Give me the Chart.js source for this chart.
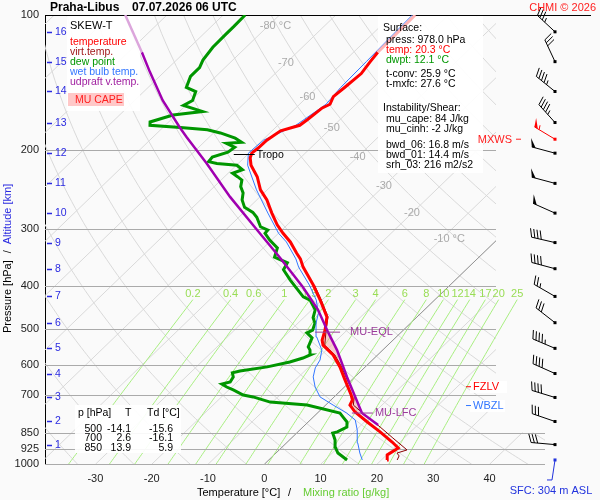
<!DOCTYPE html>
<html>
<head>
<meta charset="utf-8">
<title>Skew-T Praha-Libus</title>
<script src="https://cdn.jsdelivr.net/npm/chart.js@4.4.0/dist/chart.umd.min.js"></script>
<style>
  html, body { margin: 0; padding: 0; background: #fafafa; }
  #wrap { width: 600px; height: 500px; }
</style>
</head>
<body>
<div id="wrap"><canvas id="skewT" width="600" height="500"></canvas></div>
<script>
// sounding: pressure [hPa] and temperature [°C]
const tempP = [978, 953, 920, 892, 847, 805, 765, 738, 719, 700, 649, 607, 571, 543, 529, 503, 470, 431, 399, 364,
               349, 339, 320, 306, 293, 276, 258, 245, 229, 216, 208, 203, 198, 190, 181, 176, 171, 161, 158, 152,
               145, 135, 127, 121, 100];
const tempT = [21.0, 20.1, 20.8, 18.6, 14.6, 10.5, 6.5, 4.3, 3.8, 2.6, -1.2, -4.5, -7.9, -11.5, -12.6, -13.9, -16.0, -20.3, -24.3, -29.4,
               -31.4, -33.1, -36.3, -39.2, -41.8, -44.9, -48.2, -51.2, -54.2, -57.4, -58.9, -59.5, -59.3, -59.2, -58.5, -56.1, -55.8, -55.3, -54.6, -55.4,
               -55.1, -54.7, -55.3, -55.7, -55.9];

const virtP = [978, 958, 944, 929, 874, 826, 777, 738, 700, 649, 607, 571, 543, 503, 470, 431, 399];
const virtT = [22.8, 22.4, 21.5, 22.7, 18.0, 13.7, 8.8, 4.9, 3.2, -0.8, -4.2, -7.6, -11.2, -13.7, -15.8, -20.1, -24.1];

const dewP = [978, 944, 915, 883, 852, 847, 826, 805, 785, 769,
              738, 727, 708, 701, 683, 673, 663, 656, 639, 626,
              620, 607, 592, 580, 571, 557, 548, 523, 510, 503,
              485, 472, 453, 431, 424, 389, 369, 356, 346, 330,
              317, 306, 301, 296, 282, 275, 268, 258, 249, 241,
              233, 229, 225, 221, 216, 214, 212, 207, 202, 197,
              193, 192, 188, 183, 180, 178, 176, 173, 167, 164,
              159, 155, 148, 145, 137, 131, 126, 118, 110, 106, 100];
const dewT = [13.9, 11.0, 9.4, 8.1, 6.4, 7.0, 7.8, 6.9, 5.3, 4.0,
              -3.3, -10.4, -14.4, -16.5, -19.2, -20.9, -22.3, -21.2, -21.6, -22.5,
              -21.5, -17.4, -14.3, -12.7, -12.0, -12.9, -13.8, -14.8, -16.6, -16.1,
              -17.0, -18.3, -19.4, -22.1, -23.9, -29.3, -32.4, -33.0, -36.3, -37.5,
              -40.3, -42.4, -42.5, -44.4, -46.8, -48.4, -50.8, -52.6, -53.7, -55.3,
              -56.3, -57.7, -59.2, -58.1, -59.9, -63.8, -65.6, -65.8, -63.9, -63.6,
              -65.8, -63.3, -65.2, -68.8, -71.7, -76.9, -82.7, -83.3, -80.5, -75.9,
              -80.4, -79.7, -80.8, -83.2, -84.5, -84.5, -85.3, -85.9, -86.0, -86.0, -86.1];

const wetP = [978, 944, 897, 839, 797, 769, 738, 708, 673, 639, 610, 586, 557, 521, 485, 461, 431, 399, 364, 349,
              320, 306, 276, 245, 216, 203, 190, 176, 158, 145, 127, 100];
const wetT = [16.6, 14.9, 12.7, 10.2, 8.0, 5.2, 1.3, -2.5, -5.2, -7.4, -8.7, -9.3, -10.8, -14.1, -16.8, -18.2, -21.0, -25.0, -30.2, -32.2,
              -37.0, -40.0, -45.6, -51.9, -58.0, -60.1, -59.8, -56.8, -55.3, -55.8, -56.0, -56.4];

const parcelP = [818, 769, 639, 557, 508, 453, 403, 346, 301, 254, 214, 187, 178, 155, 134, 121, 100];
const parcelT = [13.0, 7.9, -1.4, -8.1, -13.0, -18.9, -25.8, -35.4, -44.4, -55.3, -65.6, -74.0, -77.0, -85.0, -92.5, -97.6, -107.4];

// axes
const pressureTicks = [100, 200, 300, 400, 500, 600, 700, 850, 925, 1000];
const tempTicks = [-30, -20, -10, 0, 10, 20, 30, 40];

// altitude levels (km) with their pressure, and the wind at each of them
const kmLevels = [1, 2, 3, 4, 5, 6, 7, 8, 9, 10, 11, 12, 13, 14, 15, 16];
const kmP = [904, 803, 710, 628, 552, 484, 423, 367, 321, 276, 237, 203, 173.5, 148, 127, 109];
const windDir = [275, 289, 287, 294, 293, 308, 300, 285, 283, 294, 285, 285, 318, 309, 335, 313];
const windSpd = [30, 30, 40, 40, 45, 30, 25, 40, 40, 50, 50, 50, 45, 45, 30, 35];
const maxWindP = 189, maxWindDir = 301, maxWindSpd = 55;
const surfaceP = 978;

// levels marked on the diagram
const tropoP = 204, tropoT = -59.5;
const eqlP = 508, lfcP = 769;
const fzlvP = 672, wbzlP = 740;

// background lines
const mixRatios = [0.2, 0.4, 0.6, 1, 1.5, 2, 3, 4, 6, 8, 10, 12, 14, 17, 20, 25];
const isoLabelT = [-80, -70, -60, -50, -40, -30, -20, -10];
const isoLabelP = [106, 128, 152, 178, 207, 240, 276, 315];

const tableRows = [["500", "-14.1", "-15.6"], ["700", "2.6", "-16.1"], ["850", "13.9", "5.9"]];

const SKEW = 82.7; // °C of shift per decade of pressure
const FONT = "'Liberation Sans', Arial, sans-serif";

function skewX(t, p) { return t + SKEW * Math.log10(1000 / p); }
function toPoints(ps, ts) { return ps.map((p, i) => ({ x: skewX(ts[i], p), y: p })); }
function dewFromMix(w, p) {
    const e = w * p / (622 + w);
    const l = Math.log(e / 6.112);
    return 243.5 * l / (17.67 - l);
}

function txt(ctx, s, x, y, color, size, align, bold) {
    ctx.fillStyle = color;
    ctx.font = (bold ? "bold " : "") + size + "px " + FONT;
    ctx.textAlign = align || "left";
    ctx.textBaseline = "middle";
    ctx.fillText(s, x, y);
}

function drawBarb(ctx, x, y, dir, spd, color) {
    const a = dir * Math.PI / 180;
    const ux = Math.sin(a), uy = -Math.cos(a);
    const nx = -uy, ny = ux;
    const bx = nx * 0.94 + ux * 0.34, by = ny * 0.94 + uy * 0.34;
    const L = 24;
    ctx.strokeStyle = color; ctx.fillStyle = color; ctx.lineWidth = 1;
    ctx.beginPath(); ctx.moveTo(x, y); ctx.lineTo(x + ux * L, y + uy * L); ctx.stroke();
    ctx.fillRect(x - 1.5, y - 1.5, 3, 3);
    let rest = spd, d = L;
    while (rest >= 50) {
        const sx = x + ux * d, sy = y + uy * d;
        ctx.beginPath();
        ctx.moveTo(sx, sy);
        ctx.lineTo(sx + bx * 9, sy + by * 9);
        ctx.lineTo(x + ux * (d - 4), y + uy * (d - 4));
        ctx.closePath(); ctx.fill();
        rest -= 50; d -= 5.5;
    }
    while (rest >= 10) {
        const sx = x + ux * d, sy = y + uy * d;
        ctx.beginPath(); ctx.moveTo(sx, sy); ctx.lineTo(sx + bx * 9, sy + by * 9); ctx.stroke();
        rest -= 10; d -= 3.3;
    }
    if (rest >= 5) {
        const sx = x + ux * d, sy = y + uy * d;
        ctx.beginPath(); ctx.moveTo(sx, sy); ctx.lineTo(sx + bx * 4.5, sy + by * 4.5); ctx.stroke();
    }
}

const skewtPlugin = {
    id: "skewt",
    beforeDraw(chart) {
        const ctx = chart.ctx;
        ctx.save();
        ctx.fillStyle = "#fafafa";
        ctx.fillRect(0, 0, chart.width, chart.height);
        ctx.restore();
    },
    beforeDatasetsDraw(chart) {
        const { ctx, chartArea: a, scales: { x: xs, y: ys } } = chart;
        const px = (t, p) => xs.getPixelForValue(skewX(t, p));
        const py = p => ys.getPixelForValue(p);

        // isotherms and dry adiabats
        ctx.save();
        ctx.beginPath();
        ctx.rect(a.left, a.top, a.right - a.left, a.bottom - a.top);
        ctx.rect(a.right, py(850), 49, a.bottom - py(850));
        ctx.clip();
        ctx.lineWidth = 1;
        ctx.strokeStyle = "#d9d9d9";
        for (let t = -130; t <= 50; t += 10) {
            ctx.beginPath(); ctx.moveTo(px(t, 1000), py(1000)); ctx.lineTo(px(t, 100), py(100)); ctx.stroke();
        }
        for (let th = 200; th <= 480; th += 10) {
            ctx.beginPath();
            for (let p = 1000; p >= 100; p -= 10) {
                const t = th * Math.pow(p / 1000, 0.2857) - 273.15;
                if (p === 1000) ctx.moveTo(px(t, p), py(p)); else ctx.lineTo(px(t, p), py(p));
            }
            ctx.stroke();
        }
        ctx.strokeStyle = "#808080";
        ctx.lineWidth = 0.8;
        ctx.beginPath(); ctx.moveTo(px(0, 1000), py(1000)); ctx.lineTo(px(0, 100), py(100)); ctx.stroke();
        ctx.restore();

        // mixing ratio lines
        ctx.save();
        ctx.beginPath();
        ctx.rect(a.left, a.top, chart.width - a.left, a.bottom - a.top);
        ctx.clip();
        ctx.strokeStyle = "#a8ee80";
        ctx.lineWidth = 1;
        mixRatios.forEach(w => {
            ctx.beginPath();
            for (let p = 1000; p >= 430; p -= 10) {
                const t = dewFromMix(w, p);
                if (p === 1000) ctx.moveTo(px(t, p), py(p)); else ctx.lineTo(px(t, p), py(p));
            }
            ctx.stroke();
        });
        ctx.restore();
        mixRatios.forEach(w => txt(ctx, String(w), px(dewFromMix(w, 430), 430), py(418), "#99dd55", 11, "center"));

        // isotherm labels
        isoLabelT.forEach((t, i) => {
            const x = px(t, isoLabelP[i]), y = py(isoLabelP[i]);
            txt(ctx, String(t), x, y, "#aaaaaa", 11, "center");
            if (t === -80 || t === -10) {
                ctx.font = "11px " + FONT;
                txt(ctx, " \u00b0C", x + ctx.measureText(String(t)).width / 2, y, "#aaaaaa", 11, "left");
            }
        });

        // pressure lines
        ctx.save();
        ctx.strokeStyle = "#aaaaaa";
        ctx.lineWidth = 1;
        pressureTicks.forEach(p => {
            if (p === 100) return;
            const y = Math.round(py(p)) + 0.5;
            ctx.beginPath(); ctx.moveTo(a.left, y); ctx.lineTo(p >= 850 ? 545 : a.right, y); ctx.stroke();
        });
        ctx.strokeStyle = "#000";
        ctx.beginPath(); ctx.moveTo(a.left, a.top + 0.5); ctx.lineTo(591, a.top + 0.5); ctx.stroke();
        ctx.restore();

        // white boxes
        ctx.fillStyle = "rgba(255,255,255,0.92)";
        ctx.fillRect(67, a.top + 1, 73, 95);
        ctx.fillRect(378, a.top + 1, 105, 157);
        ctx.fillRect(75, 405, 106, 48);
        ctx.fillRect(470, 381, 37, 12);
        ctx.fillRect(470, 400, 35, 12);

        // CAPE area between parcel and environment
        ctx.save();
        ctx.fillStyle = "rgba(240,150,150,0.45)";
        ctx.beginPath();
        let first = true;
        parcelP.forEach((p, i) => {
            if (p >= 500 && p <= 770) {
                if (first) { ctx.moveTo(px(parcelT[i], p), py(p)); first = false; }
                else ctx.lineTo(px(parcelT[i], p), py(p));
            }
        });
        for (let i = tempP.length - 1; i >= 0; i--) {
            const p = tempP[i];
            if (p >= 500 && p <= 770) ctx.lineTo(px(tempT[i], p), py(p));
        }
        ctx.closePath();
        ctx.fill();
        ctx.restore();
    },
    afterDatasetsDraw(chart) {
        const { ctx, chartArea: a, scales: { x: xs, y: ys } } = chart;
        const px = (t, p) => xs.getPixelForValue(skewX(t, p));
        const py = p => ys.getPixelForValue(p);
        ctx.save();

        // tropopause
        const tx = px(tropoT, tropoP), ty = Math.round(py(tropoP)) + 0.5;
        ctx.strokeStyle = "#000"; ctx.lineWidth = 1;
        ctx.beginPath(); ctx.moveTo(tx - 17, ty); ctx.lineTo(tx + 4, ty); ctx.stroke();
        txt(ctx, "Tropo", tx + 6, ty + 1, "#000", 10.5);

        // parcel levels
        const purple = "#9b3b9b";
        const ex = px(parcelT[parcelP.indexOf(eqlP)], eqlP), ey = py(eqlP);
        ctx.strokeStyle = purple;
        ctx.beginPath(); ctx.moveTo(ex - 13, ey); ctx.lineTo(ex + 12, ey); ctx.stroke();
        txt(ctx, "MU-EQL", ex + 22, ey, purple, 11);
        const lx = px(parcelT[parcelP.indexOf(lfcP)], lfcP), ly = py(lfcP);
        ctx.beginPath(); ctx.moveTo(lx - 10, ly); ctx.lineTo(lx + 11, ly); ctx.stroke();
        txt(ctx, "MU-LFC", lx + 13, ly, purple, 11);

        // freezing and wet bulb zero levels
        const fy = py(fzlvP), wy = py(wbzlP);
        ctx.strokeStyle = "#ff0000";
        ctx.beginPath(); ctx.moveTo(466, fy); ctx.lineTo(471, fy); ctx.stroke();
        txt(ctx, "FZLV", 473, fy, "#ff0000", 11);
        ctx.strokeStyle = "#3377ff";
        ctx.beginPath(); ctx.moveTo(466, wy); ctx.lineTo(471, wy); ctx.stroke();
        txt(ctx, "WBZL", 473, wy, "#3377ff", 11);

        // altitude scale
        kmLevels.forEach((k, i) => {
            const y = Math.round(py(kmP[i])) + 0.5;
            ctx.strokeStyle = "#2a2ae0"; ctx.lineWidth = 1.5;
            ctx.beginPath(); ctx.moveTo(47, y); ctx.lineTo(52, y); ctx.stroke();
            txt(ctx, String(k), 55, y, "#2a2ae0", 10.5);
        });

        // wind barbs
        const bxPos = 555;
        kmLevels.forEach((k, i) => drawBarb(ctx, bxPos, py(kmP[i]), windDir[i], windSpd[i], "#000"));
        drawBarb(ctx, bxPos, py(maxWindP), maxWindDir, maxWindSpd, "#ff0000");
        txt(ctx, "MXWS", 512, py(maxWindP) + 1, "#ff2020", 11, "right");
        ctx.strokeStyle = "#ff2020"; ctx.lineWidth = 1;
        ctx.beginPath(); ctx.moveTo(516, py(maxWindP)); ctx.lineTo(521, py(maxWindP)); ctx.stroke();
        const sy = py(surfaceP);
        ctx.strokeStyle = "#2233dd"; ctx.fillStyle = "#2233dd"; ctx.lineWidth = 1;
        ctx.fillRect(bxPos - 1.5, sy - 1.5, 3, 3);
        ctx.beginPath(); ctx.moveTo(bxPos, sy); ctx.lineTo(bxPos - 3, sy + 20); ctx.lineTo(bxPos - 8, sy + 20); ctx.stroke();
        txt(ctx, "SFC: 304 m ASL", 551, 491, "#2233dd", 11, "center");

        // legend box
        txt(ctx, "SKEW-T", 70, 26, "#000", 11);
        txt(ctx, "temperature", 70, 42, "#ff0000", 10.5);
        txt(ctx, "virt.temp.", 70, 52, "#a01818", 10.5);
        txt(ctx, "dew point", 70, 62, "#009600", 10.5);
        txt(ctx, "wet bulb temp.", 70, 72, "#3377ff", 10.5);
        txt(ctx, "udpraft v.temp.", 70, 82, "#a020a0", 10.5);
        ctx.fillStyle = "#ffc8c8";
        ctx.fillRect(68, 93, 56, 13);
        txt(ctx, "MU CAPE", 75, 100, "#ff2020", 10.5);

        // surface and instability box
        txt(ctx, "Surface:", 383, 28, "#000", 10.5);
        txt(ctx, "press: 978.0 hPa", 386, 40, "#000", 10.5);
        txt(ctx, "temp: 20.3 \u00b0C", 386, 50, "#ff0000", 10.5);
        txt(ctx, "dwpt: 12.1 \u00b0C", 386, 60, "#009600", 10.5);
        txt(ctx, "t-conv: 25.9 \u00b0C", 386, 74, "#000", 10.5);
        txt(ctx, "t-mxfc: 27.6 \u00b0C", 386, 84, "#000", 10.5);
        txt(ctx, "Instability/Shear:", 383, 108, "#000", 10.5);
        txt(ctx, "mu_cape: 84 J/kg", 386, 119, "#000", 10.5);
        txt(ctx, "mu_cinh: -2 J/kg", 386, 129, "#000", 10.5);
        txt(ctx, "bwd_06: 16.8 m/s", 386, 145, "#000", 10.5);
        txt(ctx, "bwd_01: 14.4 m/s", 386, 155, "#000", 10.5);
        txt(ctx, "srh_03: 216 m2/s2", 386, 165, "#000", 10.5);

        // standard level table
        txt(ctx, "p [hPa]", 78, 413, "#000", 10.5);
        txt(ctx, "T", 125, 413, "#000", 10.5);
        txt(ctx, "Td [\u00b0C]", 147, 413, "#000", 10.5);
        tableRows.forEach((r, i) => {
            const y = 429 + i * 9.6;
            txt(ctx, r[0], 102, y, "#000", 10.5, "right");
            txt(ctx, r[1], 131, y, "#000", 10.5, "right");
            txt(ctx, r[2], 173, y, "#000", 10.5, "right");
        });

        // titles
        txt(ctx, "Praha-Libus", 50, 8, "#000", 12, "left", true);
        txt(ctx, "07.07.2026 06 UTC", 132, 8, "#000", 12, "left", true);
        txt(ctx, "CHMI \u00a9 2026", 596, 8, "#ff2020", 11, "right");

        txt(ctx, "Temperature [\u00b0C]", 197, 493, "#000", 11);
        txt(ctx, "/", 288, 493, "#000", 11);
        txt(ctx, "Mixing ratio [g/kg]", 303, 493, "#66cc33", 11);

        ctx.translate(8, 333);
        ctx.rotate(-Math.PI / 2);
        ctx.font = "11px " + FONT;
        const w1 = ctx.measureText("Pressure [hPa]").width;
        txt(ctx, "Pressure [hPa]", 0, 0, "#000", 11);
        txt(ctx, "/", w1 + 7, 0, "#000", 11);
        txt(ctx, "Altitude [km]", w1 + 16, 0, "#2a2ae0", 11);
        ctx.restore();
    }
};

function line(label, ps, ts, color, width, extra) {
    return Object.assign({
        label: label,
        data: toPoints(ps, ts),
        showLine: true,
        borderColor: color,
        backgroundColor: color,
        borderWidth: width,
        pointRadius: 0,
        pointHoverRadius: 0,
        fill: false,
        tension: 0
    }, extra || {});
}

const ctx = document.getElementById("skewT");

new Chart(ctx, {
    type: "scatter",
    data: {
        datasets: [
            line("updraft v.temp.", parcelP, parcelT, "#a000b0", 2.5, {
                segment: { borderColor: c => c.p0.parsed.y <= 121.5 ? "#dca6dc" : undefined }
            }),
            line("temperature", tempP, tempT, "#ff0000", 3, {
                segment: { borderColor: c => c.p0.parsed.y <= 121.5 ? "#ffb4b4" : undefined }
            }),
            line("virt.temp.", virtP, virtT, "#8b0000", 1),
            line("wet bulb temp.", wetP, wetT, "#3377ff", 1),
            line("dew point", dewP, dewT, "#009600", 3)
        ]
    },
    options: {
        responsive: false,
        animation: false,
        events: [],
        layout: { padding: { left: 0, top: 15, right: 104, bottom: 0 } },
        plugins: {
            legend: { display: false },
            tooltip: { enabled: false },
            title: { display: false }
        },
        scales: {
            x: {
                type: "linear",
                min: -38.95,
                max: 41.15,
                grid: { display: false, drawTicks: false },
                border: { display: false },
                afterFit: s => { s.height = 35.7; },
                afterBuildTicks: s => { s.ticks = tempTicks.map(v => ({ value: v })); },
                ticks: {
                    padding: 8, color: "#222", autoSkip: false, maxRotation: 0,
                    font: { size: 11, family: FONT },
                    callback: v => String(v)
                }
            },
            y: {
                type: "logarithmic",
                reverse: true,
                min: 100,
                max: 1000,
                grid: { display: false, drawTicks: false },
                border: { display: true, color: "#000", width: 1 },
                afterFit: s => { s.width = 45; },
                afterBuildTicks: s => { s.ticks = pressureTicks.map(v => ({ value: v })); },
                ticks: {
                    padding: 6, color: "#222", autoSkip: false,
                    font: { size: 11, family: FONT },
                    callback: v => String(v)
                }
            }
        }
    },
    plugins: [skewtPlugin]
});
</script>
</body>
</html>
